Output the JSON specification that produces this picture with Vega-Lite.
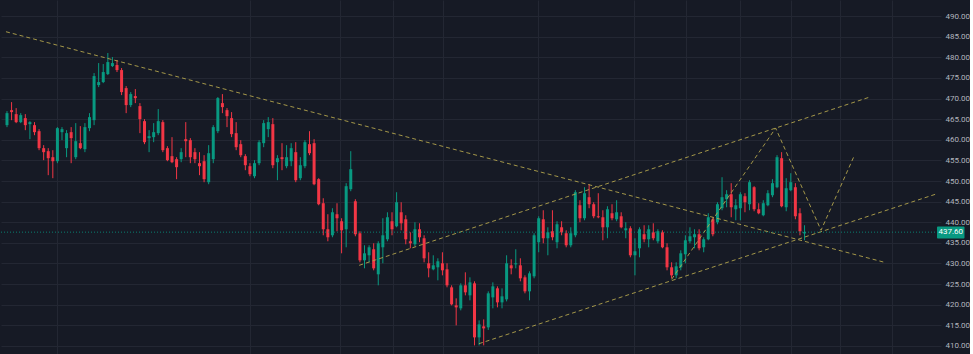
{
  "$schema": "https://vega.github.io/schema/vega-lite/v6.json",
  "width": 940,
  "height": 354,
  "padding": 0,
  "background": "#161a25",
  "config": {"view": {"stroke": null}, "font": "Roboto"},
  "resolve": {"axis": {"x": "independent", "y": "independent"}},
  "datasets": {
    "candles": [
      {"i":0,"o":463.54,"h":466.94,"l":463.06,"c":466.45},
      {"i":1,"o":467.18,"h":469.12,"l":464.75,"c":466.70},
      {"i":2,"o":466.21,"h":467.67,"l":464.03,"c":464.27},
      {"i":3,"o":464.27,"h":466.45,"l":464.03,"c":465.97},
      {"i":4,"o":465.24,"h":466.21,"l":462.33,"c":463.54},
      {"i":5,"o":463.78,"h":464.51,"l":460.14,"c":464.27},
      {"i":6,"o":463.54,"h":464.27,"l":461.11,"c":461.84},
      {"i":7,"o":462.08,"h":462.57,"l":457.47,"c":457.96},
      {"i":8,"o":457.96,"h":458.69,"l":455.05,"c":456.99},
      {"i":9,"o":457.23,"h":457.96,"l":451.41,"c":455.53},
      {"i":10,"o":455.77,"h":457.47,"l":450.68,"c":454.80},
      {"i":11,"o":454.80,"h":463.06,"l":454.32,"c":462.81},
      {"i":12,"o":461.84,"h":463.06,"l":459.90,"c":462.57},
      {"i":13,"o":457.96,"h":462.33,"l":455.77,"c":461.60},
      {"i":14,"o":461.84,"h":463.06,"l":454.32,"c":460.39},
      {"i":15,"o":455.77,"h":464.03,"l":455.29,"c":459.66},
      {"i":16,"o":459.17,"h":463.30,"l":457.71,"c":457.96},
      {"i":17,"o":457.71,"h":464.03,"l":456.99,"c":463.06},
      {"i":18,"o":462.81,"h":466.45,"l":462.08,"c":465.48},
      {"i":19,"o":464.75,"h":476.16,"l":463.54,"c":475.43},
      {"i":20,"o":473.25,"h":478.59,"l":472.76,"c":473.98},
      {"i":21,"o":473.98,"h":478.35,"l":473.73,"c":476.41},
      {"i":22,"o":475.92,"h":481.02,"l":475.68,"c":478.83},
      {"i":23,"o":477.86,"h":480.05,"l":477.62,"c":478.59},
      {"i":24,"o":478.11,"h":479.32,"l":476.41,"c":476.89},
      {"i":25,"o":476.89,"h":477.38,"l":470.82,"c":471.55},
      {"i":26,"o":472.52,"h":473.01,"l":466.45,"c":468.40},
      {"i":27,"o":468.40,"h":471.55,"l":467.91,"c":471.07},
      {"i":28,"o":470.58,"h":472.28,"l":468.88,"c":470.09},
      {"i":29,"o":468.15,"h":468.88,"l":461.60,"c":465.00},
      {"i":30,"o":464.51,"h":465.00,"l":458.93,"c":459.41},
      {"i":31,"o":460.39,"h":462.33,"l":456.99,"c":460.87},
      {"i":32,"o":460.63,"h":464.03,"l":459.41,"c":461.84},
      {"i":33,"o":461.60,"h":467.43,"l":461.11,"c":464.51},
      {"i":34,"o":464.27,"h":464.75,"l":456.99,"c":457.47},
      {"i":35,"o":457.96,"h":458.44,"l":454.80,"c":455.05},
      {"i":36,"o":456.02,"h":460.63,"l":454.32,"c":454.56},
      {"i":37,"o":455.29,"h":455.77,"l":450.44,"c":453.35},
      {"i":38,"o":455.29,"h":457.96,"l":454.56,"c":456.99},
      {"i":39,"o":460.14,"h":464.27,"l":455.77,"c":459.66},
      {"i":40,"o":459.90,"h":460.39,"l":454.32,"c":455.77},
      {"i":41,"o":456.99,"h":457.96,"l":454.32,"c":455.29},
      {"i":42,"o":454.32,"h":456.99,"l":451.41,"c":453.59},
      {"i":43,"o":454.80,"h":456.26,"l":449.71,"c":450.44},
      {"i":44,"o":449.71,"h":458.69,"l":449.22,"c":456.74},
      {"i":45,"o":455.29,"h":463.54,"l":454.32,"c":463.06},
      {"i":46,"o":462.08,"h":470.34,"l":461.60,"c":470.09},
      {"i":47,"o":468.88,"h":471.07,"l":466.45,"c":467.91},
      {"i":48,"o":467.18,"h":467.67,"l":463.06,"c":465.72},
      {"i":49,"o":465.24,"h":466.70,"l":460.63,"c":461.36},
      {"i":50,"o":461.60,"h":464.27,"l":457.47,"c":458.20},
      {"i":51,"o":458.93,"h":459.90,"l":455.77,"c":456.26},
      {"i":52,"o":456.02,"h":456.50,"l":452.62,"c":453.83},
      {"i":53,"o":453.59,"h":454.32,"l":451.16,"c":451.65},
      {"i":54,"o":451.16,"h":455.05,"l":450.68,"c":454.32},
      {"i":55,"o":454.32,"h":459.90,"l":453.83,"c":459.41},
      {"i":56,"o":459.17,"h":464.75,"l":458.20,"c":464.03},
      {"i":57,"o":462.57,"h":465.48,"l":460.63,"c":464.27},
      {"i":58,"o":463.78,"h":465.24,"l":453.10,"c":453.83},
      {"i":59,"o":454.56,"h":456.26,"l":450.19,"c":455.53},
      {"i":60,"o":455.77,"h":459.17,"l":452.62,"c":455.29},
      {"i":61,"o":453.59,"h":458.69,"l":453.10,"c":455.77},
      {"i":62,"o":454.80,"h":459.17,"l":453.59,"c":457.96},
      {"i":63,"o":456.99,"h":459.41,"l":449.71,"c":450.19},
      {"i":64,"o":450.68,"h":455.77,"l":450.19,"c":453.83},
      {"i":65,"o":453.59,"h":459.90,"l":453.10,"c":459.41},
      {"i":66,"o":458.93,"h":462.08,"l":456.26,"c":456.74},
      {"i":67,"o":459.17,"h":460.14,"l":448.98,"c":449.22},
      {"i":68,"o":450.44,"h":450.68,"l":444.12,"c":444.37},
      {"i":69,"o":444.61,"h":445.82,"l":436.84,"c":438.30},
      {"i":70,"o":438.30,"h":441.94,"l":435.39,"c":436.36},
      {"i":71,"o":436.84,"h":443.40,"l":436.36,"c":442.42},
      {"i":72,"o":441.94,"h":444.61,"l":437.81,"c":440.97},
      {"i":73,"o":440.24,"h":440.97,"l":432.47,"c":438.05},
      {"i":74,"o":438.30,"h":449.47,"l":433.93,"c":448.74},
      {"i":75,"o":448.01,"h":457.23,"l":447.52,"c":452.86},
      {"i":76,"o":445.09,"h":445.58,"l":436.60,"c":437.09},
      {"i":77,"o":437.33,"h":437.81,"l":430.29,"c":430.77},
      {"i":78,"o":430.77,"h":434.42,"l":428.83,"c":432.47},
      {"i":79,"o":431.99,"h":434.42,"l":430.29,"c":433.93},
      {"i":80,"o":433.45,"h":434.90,"l":428.35,"c":428.83},
      {"i":81,"o":427.38,"h":435.39,"l":424.71,"c":434.90},
      {"i":82,"o":433.93,"h":440.97,"l":430.05,"c":436.84},
      {"i":83,"o":435.87,"h":442.42,"l":435.39,"c":441.21},
      {"i":84,"o":440.24,"h":442.42,"l":436.84,"c":438.30},
      {"i":85,"o":439.03,"h":447.28,"l":438.78,"c":444.85},
      {"i":86,"o":442.42,"h":444.85,"l":438.05,"c":439.75},
      {"i":87,"o":440.72,"h":441.70,"l":434.66,"c":435.87},
      {"i":88,"o":435.39,"h":437.57,"l":433.69,"c":434.90},
      {"i":89,"o":434.66,"h":440.00,"l":434.17,"c":438.30},
      {"i":90,"o":438.30,"h":439.75,"l":435.15,"c":436.36},
      {"i":91,"o":436.12,"h":436.84,"l":430.29,"c":431.26},
      {"i":92,"o":430.05,"h":432.72,"l":426.65,"c":428.83},
      {"i":93,"o":428.59,"h":431.99,"l":428.35,"c":429.56},
      {"i":94,"o":429.08,"h":431.26,"l":425.92,"c":430.53},
      {"i":95,"o":430.05,"h":432.72,"l":427.13,"c":428.35},
      {"i":96,"o":428.59,"h":430.05,"l":424.22,"c":424.71},
      {"i":97,"o":424.22,"h":424.71,"l":419.85,"c":420.10},
      {"i":98,"o":419.85,"h":421.55,"l":415.00,"c":419.37},
      {"i":99,"o":419.13,"h":425.19,"l":418.64,"c":424.71},
      {"i":100,"o":424.71,"h":427.86,"l":422.28,"c":423.01},
      {"i":101,"o":422.28,"h":426.65,"l":421.07,"c":425.43},
      {"i":102,"o":425.19,"h":425.68,"l":410.15,"c":412.09},
      {"i":103,"o":412.09,"h":416.21,"l":410.15,"c":415.24},
      {"i":104,"o":414.76,"h":416.45,"l":410.15,"c":414.27},
      {"i":105,"o":414.52,"h":423.25,"l":413.90,"c":422.77},
      {"i":106,"o":421.79,"h":425.43,"l":419.13,"c":424.46},
      {"i":107,"o":423.98,"h":424.46,"l":419.37,"c":420.58},
      {"i":108,"o":420.58,"h":423.98,"l":419.13,"c":422.04},
      {"i":109,"o":421.31,"h":431.99,"l":420.82,"c":430.05},
      {"i":110,"o":429.56,"h":431.02,"l":427.38,"c":428.83},
      {"i":111,"o":429.80,"h":433.45,"l":428.83,"c":430.05},
      {"i":112,"o":429.56,"h":431.26,"l":425.68,"c":426.41},
      {"i":113,"o":426.65,"h":427.13,"l":422.77,"c":423.25},
      {"i":114,"o":423.25,"h":428.10,"l":421.07,"c":427.62},
      {"i":115,"o":426.89,"h":437.33,"l":426.41,"c":436.84},
      {"i":116,"o":435.15,"h":441.45,"l":432.72,"c":440.97},
      {"i":117,"o":440.72,"h":442.91,"l":434.90,"c":436.12},
      {"i":118,"o":436.12,"h":438.78,"l":431.99,"c":437.57},
      {"i":119,"o":437.81,"h":442.91,"l":435.63,"c":436.36},
      {"i":120,"o":435.15,"h":440.24,"l":433.69,"c":439.51},
      {"i":121,"o":438.78,"h":440.24,"l":436.84,"c":437.57},
      {"i":122,"o":437.33,"h":438.05,"l":433.93,"c":434.42},
      {"i":123,"o":434.42,"h":438.78,"l":433.93,"c":437.33},
      {"i":124,"o":436.84,"h":447.77,"l":436.36,"c":447.28},
      {"i":125,"o":444.12,"h":445.34,"l":440.00,"c":440.97},
      {"i":126,"o":440.97,"h":448.49,"l":440.48,"c":447.04},
      {"i":127,"o":446.07,"h":449.22,"l":443.40,"c":444.37},
      {"i":128,"o":444.37,"h":444.85,"l":440.97,"c":441.45},
      {"i":129,"o":441.45,"h":447.04,"l":440.97,"c":441.21},
      {"i":130,"o":441.21,"h":442.91,"l":435.63,"c":438.78},
      {"i":131,"o":438.78,"h":443.88,"l":436.12,"c":443.15},
      {"i":132,"o":442.18,"h":444.37,"l":440.48,"c":440.97},
      {"i":133,"o":440.72,"h":445.34,"l":440.24,"c":442.42},
      {"i":134,"o":441.45,"h":442.42,"l":438.54,"c":438.78},
      {"i":135,"o":438.05,"h":440.00,"l":436.12,"c":438.54},
      {"i":136,"o":438.54,"h":439.03,"l":431.50,"c":431.99},
      {"i":137,"o":431.99,"h":436.12,"l":427.13,"c":432.96},
      {"i":138,"o":433.69,"h":438.78,"l":431.50,"c":438.30},
      {"i":139,"o":437.09,"h":439.27,"l":435.15,"c":435.87},
      {"i":140,"o":435.87,"h":439.27,"l":433.93,"c":438.30},
      {"i":141,"o":437.57,"h":439.75,"l":435.63,"c":436.12},
      {"i":142,"o":435.39,"h":438.30,"l":434.90,"c":437.81},
      {"i":143,"o":437.57,"h":438.05,"l":433.69,"c":433.93},
      {"i":144,"o":433.93,"h":434.90,"l":428.35,"c":429.08},
      {"i":145,"o":429.08,"h":430.29,"l":426.41,"c":427.13},
      {"i":146,"o":427.13,"h":430.29,"l":426.41,"c":429.32},
      {"i":147,"o":429.08,"h":433.20,"l":428.35,"c":432.47},
      {"i":148,"o":432.23,"h":436.84,"l":430.05,"c":435.63},
      {"i":149,"o":435.39,"h":438.78,"l":434.90,"c":436.60},
      {"i":150,"o":436.36,"h":438.30,"l":433.69,"c":437.09},
      {"i":151,"o":437.09,"h":438.30,"l":433.20,"c":433.69},
      {"i":152,"o":433.93,"h":436.36,"l":432.72,"c":435.87},
      {"i":153,"o":435.87,"h":442.18,"l":435.63,"c":441.21},
      {"i":154,"o":440.72,"h":441.21,"l":436.60,"c":437.09},
      {"i":155,"o":440.00,"h":444.85,"l":439.51,"c":444.37},
      {"i":156,"o":443.40,"h":450.92,"l":442.91,"c":446.07},
      {"i":157,"o":445.58,"h":447.77,"l":443.64,"c":446.79},
      {"i":158,"o":446.79,"h":449.47,"l":441.21,"c":443.64},
      {"i":159,"o":443.15,"h":445.58,"l":440.48,"c":444.12},
      {"i":160,"o":443.40,"h":447.28,"l":440.48,"c":446.79},
      {"i":161,"o":446.31,"h":447.04,"l":442.42,"c":444.85},
      {"i":162,"o":444.37,"h":450.19,"l":442.91,"c":449.71},
      {"i":163,"o":448.49,"h":448.74,"l":442.67,"c":443.15},
      {"i":164,"o":443.15,"h":444.61,"l":441.94,"c":442.18},
      {"i":165,"o":441.70,"h":445.34,"l":441.45,"c":444.61},
      {"i":166,"o":444.12,"h":447.77,"l":443.88,"c":447.04},
      {"i":167,"o":446.55,"h":450.44,"l":446.07,"c":449.47},
      {"i":168,"o":448.49,"h":456.26,"l":448.25,"c":455.77},
      {"i":169,"o":455.53,"h":456.99,"l":443.64,"c":443.88},
      {"i":170,"o":443.64,"h":450.68,"l":442.67,"c":448.25},
      {"i":171,"o":447.77,"h":451.89,"l":447.52,"c":449.71},
      {"i":172,"o":448.49,"h":449.47,"l":440.72,"c":441.45},
      {"i":173,"o":442.18,"h":443.40,"l":436.84,"c":437.81},
      {"i":174,"o":437.30,"h":439.27,"l":435.63,"c":437.60}
    ],
    "lines": [
      {"line":"a","k":0,"i":-0.22,"p":486.19},
      {"line":"a","k":1,"i":191.45,"p":430.29},
      {"line":"b","k":0,"i":76.84,"p":429.56},
      {"line":"b","k":1,"i":188.2,"p":470.34},
      {"line":"c","k":0,"i":102.96,"p":410.56},
      {"line":"c","k":1,"i":202.6,"p":446.8},
      {"line":"d","k":0,"i":145.0,"p":426.17},
      {"line":"d","k":1,"i":167.7,"p":462.82},
      {"line":"d","k":2,"i":177.6,"p":438.06},
      {"line":"d","k":3,"i":184.8,"p":456.02}
    ],
    "last": [
      {"price": 437.6, "label": "437.60"}
    ]
  },
  "layer": [
    {
      "data": {"name": "candles"},
      "mark": {"type": "rule", "strokeWidth": 1},
      "encoding": {
        "x": {"field": "i", "type": "quantitative",
              "scale": {"domain": [-0.216, 202.68], "nice": false, "zero": false},
              "axis": {"orient": "bottom", "title": null, "labels": false, "ticks": false, "domain": false,
                       "grid": true, "gridColor": "#232733", "gridWidth": 1,
                       "values": [11.0, 53.1, 72.7, 84.2, 95.2, 115.9, 136.8, 148.1, 159.9, 171.0, 181.7, 193.0]}},
        "y": {"field": "l", "type": "quantitative",
              "scale": {"domain": [408.06, 493.88], "nice": false, "zero": false},
              "axis": {"orient": "right", "title": null, "values": [410,415,420,425,430,435,440,445,450,455,460,465,470,475,480,485,490],
                       "format": ".2f", "grid": true, "gridColor": "#232733", "domain": false, "ticks": false,
                       "labelOverlap": false, "labelBound": false,
                       "labelColor": "#b2b5be", "labelFontSize": 8, "labelPadding": 4, "labelFont": "Roboto"}},
        "y2": {"field": "h"},
        "color": {"condition": {"test": "datum.c >= datum.o", "value": "#089981"}, "value": "#f23645"}
      }
    },
    {
      "data": {"name": "candles"},
      "mark": {"type": "bar", "width": 3},
      "encoding": {
        "x": {"field": "i", "type": "quantitative", "axis": null},
        "y": {"field": "o", "type": "quantitative", "axis": null},
        "y2": {"field": "c"},
        "color": {"condition": {"test": "datum.c >= datum.o", "value": "#089981"}, "value": "#f23645"}
      }
    },
    {
      "data": {"name": "lines"},
      "mark": {"type": "line", "color": "#b3a44c", "strokeWidth": 1, "strokeDash": [4, 3], "opacity": 0.9},
      "encoding": {
        "x": {"field": "i", "type": "quantitative", "axis": null},
        "y": {"field": "p", "type": "quantitative", "axis": null},
        "detail": {"field": "line"},
        "order": {"field": "k"}
      }
    },
    {
      "data": {"name": "last"},
      "mark": {"type": "rule", "color": "#089981", "strokeDash": [1, 2], "strokeWidth": 1, "opacity": 0.8},
      "encoding": {
        "y": {"field": "price", "type": "quantitative", "axis": null}
      }
    },
    {
      "data": {"name": "last"},
      "mark": {"type": "rect", "color": "#089981", "cornerRadius": 1},
      "encoding": {
        "x": {"datum": 202.9, "type": "quantitative", "axis": null},
        "x2": {"datum": 208.9},
        "y": {"datum": 436.07, "type": "quantitative", "axis": null},
        "y2": {"datum": 438.98}
      }
    },
    {
      "data": {"name": "last"},
      "mark": {"type": "text", "color": "#ffffff", "fontSize": 8, "font": "Roboto", "align": "center", "baseline": "middle"},
      "encoding": {
        "x": {"datum": 205.9, "type": "quantitative", "axis": null},
        "y": {"field": "price", "type": "quantitative", "axis": null},
        "text": {"field": "label"}
      }
    }
  ]
}
